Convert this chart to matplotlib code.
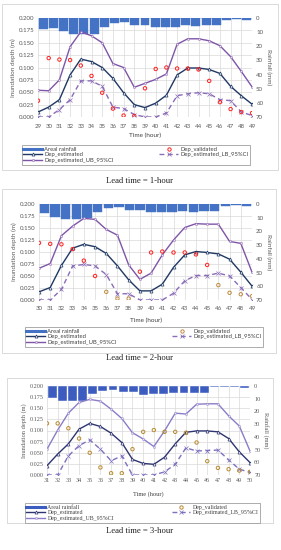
import matplotlib
matplotlib.use("Agg")
import matplotlib.pyplot as plt
from matplotlib.patches import Rectangle
import numpy as np

# ---------------- data ----------------
hours_1 = list(range(29, 50))
rain_1 = [8, 7, 9.5, 11, 11, 11, 6.4, 3.5, 2.8, 4.8, 4.8, 6.4, 6.4, 6.4, 5.2, 6, 5.2, 5.2, 1.7, 1, 1.4]
est_1 = [0.010, 0.020, 0.035, 0.085, 0.117, 0.112, 0.100, 0.078, 0.049, 0.025, 0.019, 0.028, 0.044,
         0.085, 0.099, 0.099, 0.096, 0.088, 0.062, 0.043, 0.026]
ub_1 = [0.054, 0.053, 0.075, 0.142, 0.172, 0.164, 0.150, 0.108, 0.100, 0.060, 0.068, 0.076, 0.087,
        0.147, 0.158, 0.158, 0.154, 0.144, 0.122, 0.092, 0.061]
lb_1 = [0.000, 0.000, 0.015, 0.035, 0.073, 0.073, 0.062, 0.020, 0.017, 0.005, 0.000, 0.000, 0.008,
        0.043, 0.047, 0.049, 0.047, 0.035, 0.033, 0.010, 0.003]
val_1 = [0.033, 0.119, 0.116, 0.115, 0.104, 0.083, 0.049, 0.017, 0.003, 0.002, 0.058, 0.097, 0.100,
         0.098, 0.098, 0.096, 0.073, 0.030, 0.016, 0.010, 0.008]

hours_2 = list(range(30, 50))
rain_2 = [6.3, 9.2, 10.9, 10.9, 10.5, 6.1, 3.2, 2.4, 4.4, 4.4, 6.1, 6.1, 6.1, 4.9, 5.6, 4.9, 4.9, 1.5, 1, 1.5]
est_2 = [0.017, 0.026, 0.072, 0.108, 0.116, 0.111, 0.097, 0.071, 0.042, 0.019, 0.019, 0.033, 0.068,
         0.094, 0.101, 0.099, 0.096, 0.085, 0.058, 0.029]
ub_2 = [0.066, 0.076, 0.134, 0.154, 0.170, 0.168, 0.147, 0.135, 0.073, 0.043, 0.056, 0.094, 0.125,
        0.151, 0.159, 0.158, 0.158, 0.122, 0.118, 0.058]
lb_2 = [0.000, 0.000, 0.022, 0.071, 0.074, 0.071, 0.053, 0.013, 0.013, 0.000, 0.000, 0.000, 0.014,
        0.040, 0.051, 0.051, 0.056, 0.050, 0.026, 0.001]
val_2 = [0.119, 0.117, 0.116, 0.106, 0.082, 0.050, 0.017, 0.003, 0.003, 0.059, 0.099, 0.101, 0.099,
         0.099, 0.095, 0.073, 0.031, 0.015, 0.012, 0.008]

hours_3 = list(range(31, 51))
rain_3 = [9.7, 11.8, 11.5, 11.5, 6.6, 3.7, 3.1, 5, 5, 7.1, 6.3, 6.3, 5.2, 5.8, 5.8, 5.8, 1, 0.8, 1, 1.3]
est_3 = [0.021, 0.047, 0.070, 0.103, 0.116, 0.109, 0.094, 0.073, 0.035, 0.026, 0.024, 0.040, 0.070,
         0.096, 0.099, 0.099, 0.097, 0.082, 0.052, 0.028]
ub_3 = [0.058, 0.101, 0.139, 0.163, 0.170, 0.166, 0.148, 0.127, 0.095, 0.081, 0.064, 0.099, 0.139,
        0.137, 0.159, 0.160, 0.160, 0.133, 0.110, 0.054]
lb_3 = [0.000, 0.000, 0.043, 0.066, 0.079, 0.058, 0.032, 0.043, 0.000, 0.000, 0.000, 0.007, 0.024,
        0.061, 0.054, 0.055, 0.056, 0.034, 0.013, 0.006]
val_3 = [0.116, 0.116, 0.105, 0.082, 0.050, 0.017, 0.004, 0.004, 0.058, 0.097, 0.101, 0.097, 0.097,
         0.095, 0.073, 0.031, 0.016, 0.013, 0.010, 0.007]

depth_ticks = [0.000, 0.025, 0.050, 0.075, 0.100, 0.125, 0.150, 0.175, 0.200]
rain_ticks = [0, 10, 20, 30, 40, 50, 60, 70]
legend_labels = ["Areal rainfall", "Dep_estimated", "Dep_estimated_UB_95%CI",
                 "Dep_validated", "Dep_estimated_LB_95%CI"]
captions = ["Lead time = 1-hour", "Lead time = 2-hour", "Lead time = 3-hour"]

W, H = 281, 550
fig = plt.figure(figsize=(W / 100, H / 100), dpi=100)
fig.patch.set_facecolor("white")


def rect(l, t, r, b):
    return [l / W, 1 - b / H, (r - l) / W, (b - t) / H]


def fx(x):
    return x / W


def fy(y):
    return 1 - y / H


def panel(hours, rain, est, ub, lb, val, box, ax_px, tick_y, xlab_y, leg_box, cap_y, caption,
          font, est_c, ub_c, lb_c, val_c, bar_c, bar_edge, val_colors=None):
    tc = "#595959"
    # frame of the chart area
    bl, bt, br, bb = box
    fig.add_artist(Rectangle((fx(bl), fy(bb)), fx(br) - fx(bl), fy(bt) - fy(bb),
                             transform=fig.transFigure, fill=False, ec="#d4d4d4", lw=0.6))
    l, t, r, b = ax_px
    # background axis with grid + left ticks
    ax = fig.add_axes(rect(l, t, r, b), zorder=1)
    ax.set_xlim(hours[0], hours[-1])
    ax.set_ylim(0, 0.2)
    ax.set_yticks(depth_ticks)
    ax.set_yticklabels([f"{v:.3f}" for v in depth_ticks], fontsize=4.4, color=tc, family=font)
    ax.set_xticks(hours)
    ax.set_xticklabels([str(h) for h in hours], fontsize=4.4, color=tc, family=font)
    ax.grid(True, color="#d9d9d9", lw=0.5)
    ax.tick_params(length=0, pad=2.5)
    ax.tick_params(axis="x", pad=(tick_y - b) / 1.39 - 2.2)
    for s in ax.spines.values():
        s.set_visible(False)
    ax.set_ylabel("Inundation depth (m)", fontsize=4.6, color=tc, family=font, labelpad=2)
    # rain bars on their own category axis
    axr = fig.add_axes(rect(l, t, r, b), zorder=2)
    axr.patch.set_visible(False)
    n = len(rain)
    axr.bar(np.arange(n), rain, width=0.88, color=bar_c, edgecolor=bar_edge, lw=0.3)
    axr.set_xlim(-0.5, n - 0.5)
    axr.set_ylim(70, 0)
    axr.set_xticks([])
    axr.yaxis.tick_right()
    axr.yaxis.set_label_position("right")
    axr.set_yticks(rain_ticks)
    axr.set_yticklabels([str(v) for v in rain_ticks], fontsize=4.4, color=tc, family=font)
    axr.tick_params(length=0, pad=3)
    for s in axr.spines.values():
        s.set_visible(False)
    axr.set_ylabel("Rainfall (mm)", fontsize=4.6, color=tc, family=font, rotation=270, labelpad=6)
    # lines on top
    axl = fig.add_axes(rect(l, t, r, b), zorder=3, sharex=ax)
    axl.patch.set_visible(False)
    axl.set_ylim(0, 0.2)
    axl.axis("off")
    axl.plot(hours, ub, color=ub_c, lw=1.0, marker="o", ms=1.6, mfc="#e8dcf0", mec=ub_c, mew=0.3)
    axl.plot(hours, est, color=est_c, lw=1.0, marker="^", ms=2.2, mfc="white", mec=est_c, mew=0.5)
    axl.plot(hours, lb, color=lb_c, lw=1.0, ls=(0, (3.5, 2.5)), marker="x", ms=2.3, mec=lb_c, mew=0.5)
    if val_colors is None:
        val_colors = [val_c] * len(val)
    axl.scatter(hours, val, s=6, facecolors="none", edgecolors=val_colors, linewidths=0.7, zorder=5)
    # x label
    fig.text(fx((l + r) / 2), fy(xlab_y), "Time (hour)", fontsize=4.6, color="#404040",
             family=font, ha="center", va="center")
    # legend
    h_bar = plt.Line2D([], [], color=bar_c, lw=2.2)
    h_est = plt.Line2D([], [], color=est_c, lw=1.0, marker="^", ms=2.2, mfc="white", mec=est_c, mew=0.5)
    h_ub = plt.Line2D([], [], color=ub_c, lw=1.0, marker="o", ms=1.6, mfc="#e8dcf0", mec=ub_c, mew=0.3)
    h_val = plt.Line2D([], [], color=val_c, lw=0, marker="o", ms=2.4, mfc="none", mec=val_c, mew=0.7)
    h_lb = plt.Line2D([], [], color=lb_c, lw=1.0, ls=(0, (3.5, 2.5)), marker="x", ms=2.3, mec=lb_c, mew=0.5)
    ll, lt, lr, lbm = leg_box
    leg = fig.legend([h_bar, h_est, h_ub, h_val, h_lb], legend_labels, ncol=2,
                     loc="upper left", bbox_to_anchor=(fx(ll), fy(lbm), fx(lr) - fx(ll), fy(lt) - fy(lbm)),
                     mode="expand", borderaxespad=0, frameon=True, fancybox=False, framealpha=1,
                     prop={"family": font, "size": 4.2}, handlelength=3.2, handletextpad=0.4,
                     labelspacing=0.12, borderpad=0.25, columnspacing=1.0)
    leg.get_frame().set_edgecolor("#8c8c8c")
    leg.get_frame().set_linewidth(0.5)
    for txt in leg.get_texts():
        txt.set_color("#404040")
    fig.text(fx(140), fy(cap_y), caption, fontsize=6.2, family="Liberation Serif",
             ha="center", va="center", color="#222222")


sans = "Lato"
serif = "Liberation Serif"

panel(hours_1, rain_1, est_1, ub_1, lb_1, val_1,
      box=(2, 4, 278, 170), ax_px=(38, 18, 252, 117), tick_y=127, xlab_y=135,
      leg_box=(22, 145, 250, 168), cap_y=181, caption=captions[0], font=sans,
      est_c="#1f3864", ub_c="#7f55a8", lb_c="#8a6cb8", val_c="#ff2020",
      bar_c="#4472c4", bar_edge="#4472c4")

brown = "#c08a3e"
val2_colors = [brown if h in (36, 37, 38, 46, 47, 48, 49) else "#ff2020" for h in hours_2]
panel(hours_2, rain_2, est_2, ub_2, lb_2, val_2,
      box=(2, 189, 276, 353), ax_px=(39, 204, 252, 300), tick_y=309, xlab_y=320,
      leg_box=(25, 327, 263, 351), cap_y=358, caption=captions[1], font=sans,
      est_c="#1f3864", ub_c="#7f55a8", lb_c="#8a6cb8", val_c=brown,
      bar_c="#4472c4", bar_edge="#4472c4", val_colors=val2_colors)

panel(hours_3, rain_3, est_3, ub_3, lb_3, val_3,
      box=(7, 378, 273, 523), ax_px=(47, 386, 250, 475), tick_y=481, xlab_y=494,
      leg_box=(25, 503, 260, 522), cap_y=531, caption=captions[2], font=serif,
      est_c="#2e3570", ub_c="#8c7cc8", lb_c="#7e70c0", val_c="#b88a2e",
      bar_c="#3d5cc0", bar_edge="white")

fig.savefig("out.png", dpi=100, facecolor="white")
